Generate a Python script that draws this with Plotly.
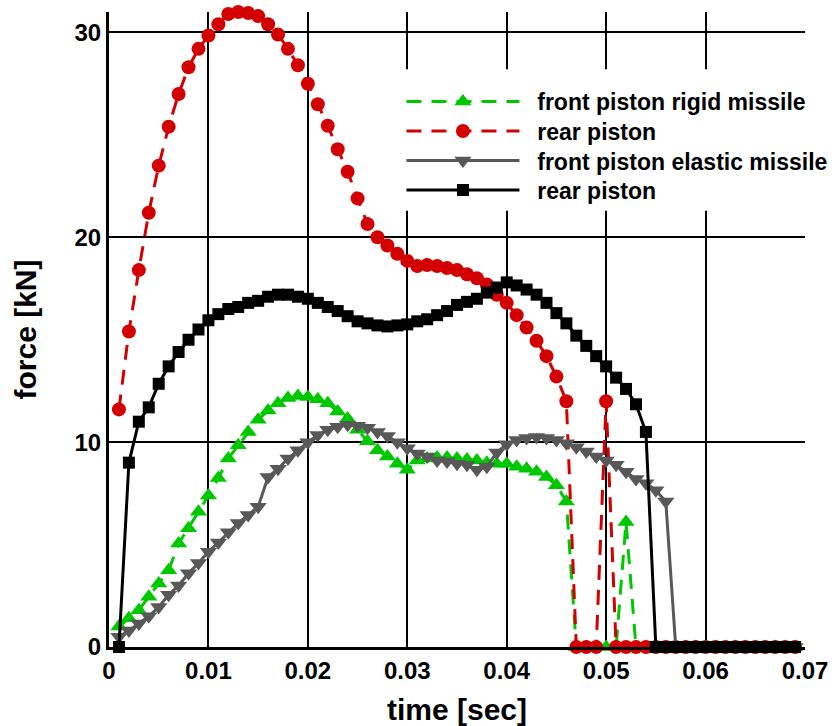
import plotly.graph_objects as go

# time axis [sec]
time = [0.001, 0.002, 0.003, 0.004, 0.005, 0.006, 0.007, 0.008, 0.009, 0.010,
        0.011, 0.012, 0.013, 0.014, 0.015, 0.016, 0.017, 0.018, 0.019, 0.020,
        0.021, 0.022, 0.023, 0.024, 0.025, 0.026, 0.027, 0.028, 0.029, 0.030,
        0.031, 0.032, 0.033, 0.034, 0.035, 0.036, 0.037, 0.038, 0.039, 0.040,
        0.041, 0.042, 0.043, 0.044, 0.045, 0.046, 0.047, 0.048, 0.049, 0.050,
        0.051, 0.052, 0.053, 0.054, 0.055, 0.056, 0.057, 0.058, 0.059, 0.060,
        0.061, 0.062, 0.063, 0.064, 0.065, 0.066, 0.067, 0.068, 0.069]

# front piston, rigid missile [kN]
front_rigid = [1.0, 1.4, 1.8, 2.45, 3.1, 3.75, 5.05, 5.8, 6.6, 7.4,
               8.25, 9.2, 9.85, 10.5, 11.1, 11.55, 11.9, 12.15, 12.25, 12.2,
               12.1, 11.9, 11.5, 11.15, 10.6, 10.05, 9.6, 9.3, 8.95, 8.65,
               9.1, 9.2, 9.25, 9.25, 9.2, 9.15, 9.1, 9.0, 8.95, 8.95,
               8.8, 8.7, 8.55, 8.3, 7.9, 7.1, 0, 0, 0, 0,
               0, 6.1, 0, 0, 0, 0, 0, 0, 0, 0,
               0, 0, 0, 0, 0, 0, 0, 0, 0]

# rear piston, rigid missile [kN]
rear_rigid = [11.6, 15.4, 18.4, 21.2, 23.5, 25.4, 27.0, 28.3, 29.2, 29.85,
              30.4, 30.9, 31.0, 30.95, 30.8, 30.4, 29.9, 29.2, 28.4, 27.5,
              26.5, 25.45, 24.3, 23.2, 21.9, 20.65, 20.0, 19.6, 19.2, 18.85,
              18.6, 18.65, 18.6, 18.5, 18.4, 18.2, 18.0, 17.7, 17.2, 16.8,
              16.2, 15.6, 14.95, 14.2, 13.2, 12.0, 0, 0, 0, 12.0,
              0, 0, 0, 0, 0, 0, 0, 0, 0, 0,
              0, 0, 0, 0, 0, 0, 0, 0, 0]

# front piston, elastic missile [kN]
front_elastic = [0.5, 0.8, 1.15, 1.5, 1.95, 2.55, 3.0, 3.6, 4.1, 4.65,
                 5.1, 5.6, 6.05, 6.45, 6.85, 8.3, 8.7, 9.2, 9.6, 10.0,
                 10.35, 10.6, 10.75, 10.85, 10.8, 10.7, 10.5, 10.3, 10.0, 9.7,
                 9.45, 9.3, 9.1, 9.05, 8.95, 8.9, 8.65, 8.8, 9.5, 9.9,
                 10.1, 10.2, 10.25, 10.2, 10.1, 9.95, 9.75, 9.55, 9.3, 9.1,
                 8.9, 8.55, 8.2, 8.0, 7.65, 7.1, 0, 0, 0, 0,
                 0, 0, 0, 0, 0, 0, 0, 0, 0]

# rear piston, elastic missile [kN]
rear_elastic = [0, 9.0, 11.0, 11.7, 12.85, 13.7, 14.4, 15.0, 15.5, 15.95,
                16.25, 16.5, 16.6, 16.8, 16.9, 17.1, 17.2, 17.2, 17.1, 17.0,
                16.8, 16.6, 16.4, 16.15, 15.9, 15.8, 15.7, 15.65, 15.7, 15.75,
                15.9, 16.0, 16.2, 16.4, 16.7, 16.85, 17.0, 17.3, 17.55, 17.8,
                17.65, 17.45, 17.2, 16.8, 16.3, 15.8, 15.2, 14.7, 14.2, 13.7,
                13.15, 12.6, 11.85, 10.5, 0, 0, 0, 0, 0, 0,
                0, 0, 0, 0, 0, 0, 0, 0, 0]

series_names = ["front piston rigid missile", "rear piston",
                "front piston elastic missile", "rear piston"]

x_ticks = [0, 0.01, 0.02, 0.03, 0.04, 0.05, 0.06, 0.07]
x_tick_text = ["0", "0.01", "0.02", "0.03", "0.04", "0.05", "0.06", "0.07"]
y_ticks = [0, 10, 20, 30]
y_tick_text = ["0", "10", "20", "30"]

FONT = "Liberation Sans, Arial, Helvetica, sans-serif"
PAD = "\u00a0\u00a0"

# one legend per row so the row pitch matches the original
row_legends = ["legend", "legend2", "legend3", "legend4"]
row_y = [0.859, 0.8126, 0.766, 0.7197]

fig = go.Figure()
fig.add_trace(go.Scatter(
    x=time, y=front_rigid, name=PAD + series_names[0], mode="lines+markers",
    line=dict(color="#00c800", width=3, dash="15px,10px"),
    marker=dict(symbol="triangle-up", size=15, color="#00c800"),
    legend=row_legends[0], cliponaxis=False))
fig.add_trace(go.Scatter(
    x=time, y=rear_rigid, name=PAD + series_names[1], mode="lines+markers",
    line=dict(color="#d20000", width=3, dash="15px,10px"),
    marker=dict(symbol="circle", size=14, color="#d20000"),
    legend=row_legends[1], cliponaxis=False))
fig.add_trace(go.Scatter(
    x=time, y=front_elastic, name=PAD + series_names[2], mode="lines+markers",
    line=dict(color="#585858", width=3),
    marker=dict(symbol="triangle-down", size=15, color="#585858"),
    legend=row_legends[2], cliponaxis=False))
fig.add_trace(go.Scatter(
    x=time, y=rear_elastic, name=PAD + series_names[3], mode="lines+markers",
    line=dict(color="#000000", width=3),
    marker=dict(symbol="square", size=12, color="#000000"),
    legend=row_legends[3], cliponaxis=False))

legend_style = dict(
    x=0.4202, xanchor="left", yanchor="middle",
    bgcolor="rgba(0,0,0,0)", borderwidth=0,
    font=dict(family=FONT, size=23, color="black", weight="bold"),
    itemwidth=113,
)
legend_layout = {}
for name, y in zip(row_legends, row_y):
    legend_layout[name] = dict(legend_style, y=y)

# white backing of the legend block (hides the grid behind it, as in the original)
fig.add_shape(type="rect", xref="x", yref="y", layer="between",
              x0=0.0292, x1=0.0712, y0=21.3, y1=28.2,
              fillcolor="white", line=dict(width=0))

fig.update_layout(
    width=835, height=726,
    margin=dict(l=109, r=30, t=12, b=79, autoexpand=False),
    paper_bgcolor="white", plot_bgcolor="white",
    font=dict(family=FONT, color="black"),
    showlegend=True,
    xaxis=dict(
        range=[0, 0.07], tickvals=x_ticks, ticktext=x_tick_text,
        automargin=False,
        showgrid=True, gridcolor="black", gridwidth=2,
        showline=True, linecolor="black", linewidth=3,
        zeroline=False, ticks="",
        tickfont=dict(family=FONT, size=24, color="black", weight="bold"),
        title=dict(text="time [sec]", font=dict(family=FONT, size=30, color="black", weight="bold"), standoff=17),
    ),
    yaxis=dict(
        range=[0, 31], tickvals=y_ticks, ticktext=y_tick_text,
        automargin=False,
        showgrid=True, gridcolor="black", gridwidth=2,
        showline=True, linecolor="black", linewidth=3,
        zeroline=False, ticks="",
        tickfont=dict(family=FONT, size=24, color="black", weight="bold"),
        title=dict(text="force [kN]", font=dict(family=FONT, size=30, color="black", weight="bold"), standoff=29),
    ),
    **legend_layout,
)

fig.write_html("out.html", config={"displayModeBar": False},
               post_script="document.body.style.margin='0px';")
